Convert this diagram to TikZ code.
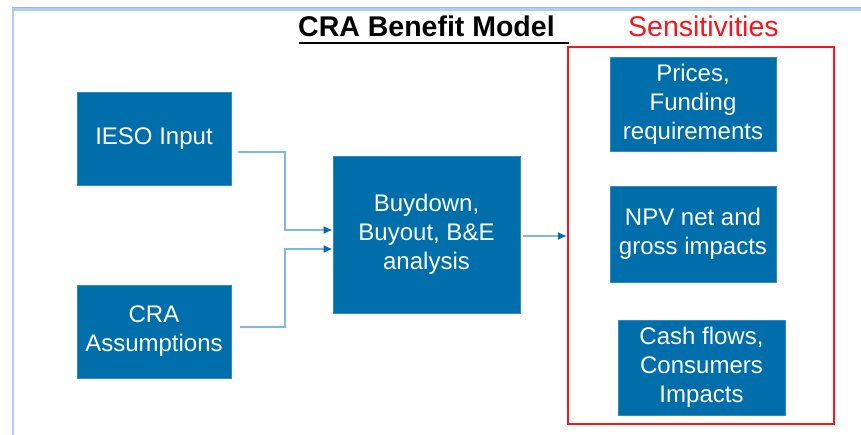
\documentclass[tikz,border=0pt]{standalone}
\usepackage{fontspec}
\setmainfont{Liberation Sans}
\usetikzlibrary{arrows.meta}
\definecolor{boxblue}{RGB}{0,110,170}
\definecolor{linkblue}{RGB}{125,185,225}
\definecolor{tipblue}{RGB}{0,105,175}
\definecolor{framegray}{RGB}{175,180,185}
\definecolor{frameblue}{RGB}{170,210,240}
\definecolor{sensred}{RGB}{250,20,30}
\tikzset{
  box/.style={fill=boxblue, draw=boxblue!80!white, line width=0.6pt, text=white,
    font=\fontsize{24}{29}\selectfont, align=center, inner sep=0pt, anchor=center},
  link/.style={draw=linkblue, line width=1.8pt,
    -{Latex[length=9pt,width=8pt,color=tipblue]}},
}
\begin{document}
\begin{tikzpicture}[x=1pt,y=-1pt]
\useasboundingbox (0,0) rectangle (861,435);
% page frame
\draw[frameblue, line width=2.5pt] (13,436) -- (13,9.5) -- (862,9.5);
\draw[framegray, line width=1pt] (12,7.5) -- (862,7.5);

% headings
\node[anchor=base west, inner sep=0pt, font=\fontsize{28.5}{33}\bfseries\selectfont] (title) at (298,37) {CRA Benefit Model};
\draw[line width=2pt] (299,43.5) -- (569,43.5);
\node[anchor=base west, inner sep=0pt, text=sensred, font=\fontsize{28.5}{34}\selectfont] (sens) at (628,37) {Sensitivities};

% sensitivities frame
\draw[sensred, line width=2pt] (568,47) rectangle (834,424);

% input boxes
\node[box, minimum width=154pt, minimum height=93pt] (ieso) at (154,138.5) {IESO Input};
\node[box, minimum width=154pt, minimum height=93pt] (cra) at (154,331.5) {CRA\\Assumptions};

% analysis box
\node[box, minimum width=187pt, minimum height=157pt] (mid) at (426.5,234.5) {Buydown,\\Buyout, B\&E\\analysis};

% sensitivity boxes
\node[box, minimum width=166pt, minimum height=94pt] (prices) at (693,104) {Prices,\\Funding\\requirements};
\node[box, minimum width=166pt, minimum height=96pt] (npv) at (693,234) {NPV net and\\gross impacts};
\node[box, minimum width=167pt, minimum height=95pt] (cash) at (701.5,367.5) {Cash flows,\\Consumers\\Impacts};

% connectors (yshift is in page points: positive moves up)
\coordinate (sensin) at (567,236);
\draw[link] ([xshift=7pt,yshift=-13.5pt]ieso.east) -- ++(47,0) |- ([yshift=4.5pt]mid.west);
\draw[link] ([xshift=9pt,yshift=4.5pt]cra.east) -- ++(45,0) |- ([yshift=-14.5pt]mid.west);
\draw[link] ([xshift=3pt,yshift=-1.5pt]mid.east) -- (sensin);
\end{tikzpicture}
\end{document}
